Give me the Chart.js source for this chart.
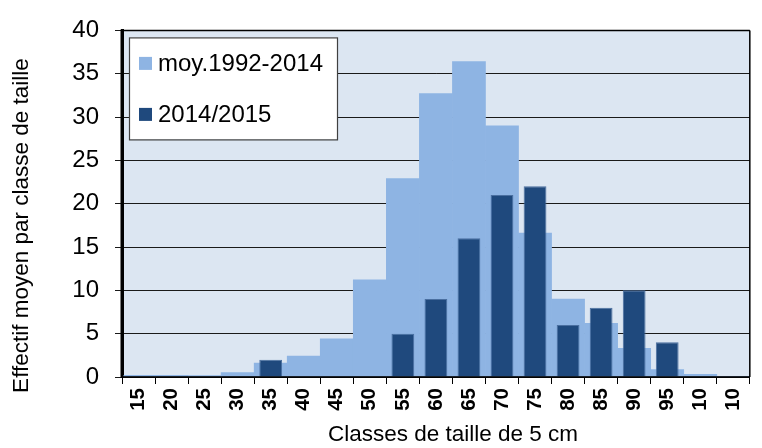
<!DOCTYPE html>
<html><head><meta charset="utf-8">
<script src="https://cdn.jsdelivr.net/npm/chart.js@4.4.1/dist/chart.umd.min.js"></script>
<style>html,body{margin:0;padding:0;background:#fff;}#wrap{width:762px;height:448px;position:relative;}</style>
</head><body><div id="wrap"><canvas id="c"></canvas></div>
<script>
const categories = ['15','20','25','30','35','40','45','50','55','60','65','70','75','80','85','90','95','10','10'];
const seriesNames = ['moy.1992-2014', '2014/2015'];
const moyValues = [0.2, 0.2, 0.15, 0.5, 1.6, 2.4, 4.4, 11.2, 22.9, 32.7, 36.4, 29.0, 16.6, 9.0, 6.2, 3.3, 0.85, 0.3, 0.05];
const saisonValues = [0, 0, 0, 0, 2, 0, 0, 0, 5, 9, 16, 21, 22, 6, 8, 10, 4, 0, 0];
const yTickLabels = [0, 5, 10, 15, 20, 25, 30, 35, 40];
const xTitle = 'Classes de taille de 5 cm';
const yTitle = 'Effectif moyen par classe de taille';

const FONT = '"Liberation Sans", Arial, sans-serif';
const LIGHT = '#8EB4E3';
const DARK = '#1F497D';

const chromePlugin = {
  id: 'chrome',
  beforeDraw(chart) {
    const {ctx, chartArea: a} = chart;
    ctx.save();
    ctx.fillStyle = '#DCE6F2';
    ctx.fillRect(a.left, a.top, a.right - a.left, a.bottom - a.top);
    ctx.restore();
  },
  afterDatasetsDraw(chart) {
    const {ctx, chartArea: a} = chart;
    ctx.save();
    ctx.strokeStyle = '#000';
    // frame
    ctx.lineWidth = 1.5;
    ctx.beginPath();
    ctx.moveTo(a.left, a.top); ctx.lineTo(a.right, a.top);
    ctx.moveTo(a.right, a.top); ctx.lineTo(a.right, a.bottom);
    ctx.moveTo(a.left, a.bottom); ctx.lineTo(a.right, a.bottom);
    ctx.stroke();
    ctx.lineWidth = 3;
    ctx.beginPath();
    ctx.moveTo(a.left, a.top - 1); ctx.lineTo(a.left, a.bottom + 1);
    ctx.stroke();

    // legend box
    const bx = a.left + 7, by = a.top + 7, bw = 208, bh = 102;
    ctx.fillStyle = '#fff';
    ctx.fillRect(bx, by, bw, bh);
    ctx.lineWidth = 1.2;
    ctx.strokeStyle = '#404040';
    ctx.strokeRect(bx + 0.5, by + 0.5, bw, bh);
    const ds = chart.data.datasets;
    const rowsY = [by + 26, by + 77];
    ctx.font = '24px ' + FONT;
    ctx.textBaseline = 'middle';
    ctx.textAlign = 'left';
    ds.forEach((d, i) => {
      ctx.fillStyle = d.backgroundColor;
      ctx.fillRect(bx + 10, rowsY[i] - 6.5, 13, 13);
      ctx.fillStyle = '#000';
      ctx.fillText(d.label, bx + 29, rowsY[i] + 1);
    });

    // axis titles
    ctx.fillStyle = '#000';
    ctx.font = '22.5px ' + FONT;
    ctx.textAlign = 'center';
    ctx.textBaseline = 'alphabetic';
    ctx.fillText(xTitle, 453, 441);
    ctx.translate(28, 225.5);
    ctx.rotate(-Math.PI / 2);
    ctx.fillText(yTitle, 0, 0);
    ctx.restore();
  }
};

new Chart(document.getElementById('c'), {
  type: 'bar',
  data: {
    labels: categories,
    datasets: [
      {label: seriesNames[0], data: moyValues, backgroundColor: LIGHT, borderWidth: 0,
       barPercentage: 1, categoryPercentage: 1, grouped: false, order: 2},
      {label: seriesNames[1], data: saisonValues, backgroundColor: DARK, borderColor: '#4A6FA0', borderWidth: 1,
       barPercentage: 0.69, categoryPercentage: 1, grouped: false, order: 1}
    ]
  },
  options: {
    responsive: true,
    maintainAspectRatio: false,
    animation: false,
    devicePixelRatio: 1,
    layout: {padding: {left: 0, right: 4, top: 17, bottom: 0}},
    plugins: {legend: {display: false}, tooltip: {enabled: false}},
    scales: {
      x: {
        type: 'category',
        offset: true,
        grid: {offset: true, drawOnChartArea: false, drawTicks: true, tickLength: 7, color: '#000', lineWidth: 1},
        border: {display: true, color: '#000', width: 1.5},
        ticks: {autoSkip: false, minRotation: 90, maxRotation: 90, padding: 4, color: '#000',
                font: {family: FONT, size: 20.5, weight: 'bold'}},
        afterFit: s => { s.height = 71; }
      },
      y: {
        min: 0, max: 40,
        afterBuildTicks: s => { s.ticks = yTickLabels.map(v => ({value: v})); },
        grid: {color: '#1a1a1a', lineWidth: 1, tickLength: 7, drawTicks: true},
        border: {display: true, color: '#000', width: 3},
        ticks: {padding: 16, color: '#000', font: {family: FONT, size: 24}},
        afterFit: s => { s.width = 122; }
      }
    }
  },
  plugins: [chromePlugin]
});
</script>
</body></html>
